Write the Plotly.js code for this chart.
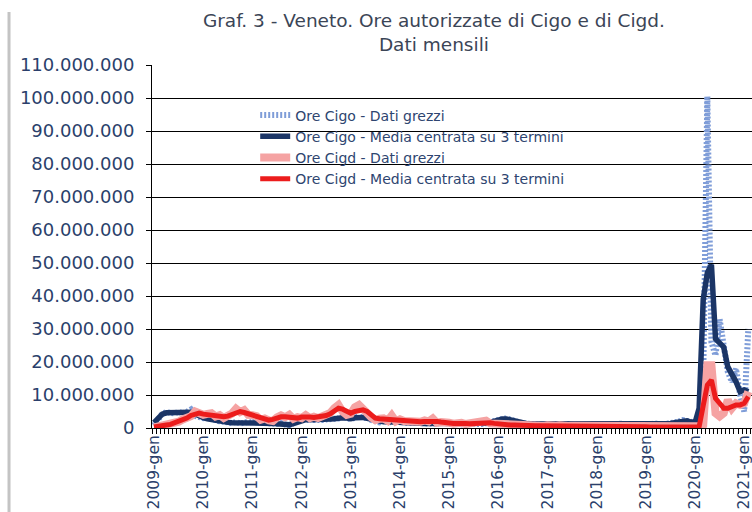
<!DOCTYPE html>
<html>
<head>
<meta charset="utf-8">
<script src="https://cdn.plot.ly/plotly-3.0.1.min.js"></script>
<style>html,body{margin:0;padding:0;background:#fff;}#chart{width:752px;height:512px;}</style>
</head>
<body>
<div id="chart"></div>
<script>
// Categories
var years = [2009,2010,2011,2012,2013,2014,2015,2016,2017,2018,2019,2020,2021];
var monthAbbr = ['gen','feb','mar','apr','mag','giu','lug','ago','set','ott','nov','dic'];

// Values in millions of hours (monthly, from 2009-gen to 2021-feb)
var cigoRaw = [
  0.8, 2.8, 4.3, 4.8, 4.5, 4.4, 4.9, 4.4, 4.9, 5.6, 3.7, 3.2,
  3.0, 3.2, 2.7, 2.3, 2.0, 1.9, 1.6, 1.5, 1.8, 1.4, 1.6, 1.9,
  1.7, 2.1, 1.7, 1.5, 1.6, 1.3, 1.2, 1.5, 1.0, 0.6, 1.6, 2.0,
  2.6, 2.3, 2.8, 2.4, 2.2, 2.4, 2.6, 2.6, 3.0, 2.9, 3.5, 2.8,
  2.6, 3.1, 3.6, 3.0, 3.2, 2.4, 2.1, 1.7, 2.2, 1.9, 1.7, 1.9,
  1.6, 1.7, 1.5, 1.6, 1.4, 1.5, 1.4, 1.3, 1.5, 1.4, 1.7, 1.5,
  1.5, 1.2, 1.4, 1.1, 1.3, 1.2, 1.0, 1.3, 1.2, 1.4, 1.8, 2.0,
  2.2, 2.8, 2.9, 2.5, 1.8, 1.5, 1.4, 1.3, 1.2, 1.1, 1.2, 1.0,
  1.2, 0.9, 1.1, 1.2, 0.9, 1.0, 1.1, 1.0, 1.2, 1.0, 0.9, 1.1,
  0.9, 1.2, 1.0, 1.1, 0.9, 1.2, 1.3, 1.0, 1.0, 0.9, 1.2, 1.1,
  1.3, 1.1, 1.4, 1.2, 1.1, 1.3, 1.5, 1.4, 1.9, 2.4, 2.2, 1.9,
  1.2, 1.8, 15, 100.5, 26, 22, 33, 24, 17, 14, 18, 10,
  5, 30
];
var cigoMA = [
  1.6, 3.0, 4.2, 4.6, 4.6, 4.6, 4.7, 4.7, 4.8, 4.8, 4.3, 3.6,
  3.1, 2.8, 2.5, 2.2, 2.0, 1.8, 1.7, 1.6, 1.6, 1.5, 1.6, 1.7,
  1.8, 1.8, 1.7, 1.6, 1.5, 1.4, 1.3, 1.2, 1.0, 1.0, 1.3, 1.8,
  2.3, 2.5, 2.5, 2.5, 2.3, 2.4, 2.5, 2.7, 2.8, 3.1, 3.1, 3.0,
  2.8, 3.1, 3.2, 3.2, 2.9, 2.6, 2.1, 2.0, 1.9, 1.9, 1.8, 1.8,
  1.7, 1.6, 1.6, 1.5, 1.5, 1.4, 1.4, 1.4, 1.4, 1.5, 1.5, 1.6,
  1.4, 1.4, 1.2, 1.3, 1.2, 1.2, 1.2, 1.2, 1.3, 1.5, 1.7, 2.1,
  2.4, 2.7, 2.7, 2.4, 1.9, 1.6, 1.4, 1.3, 1.2, 1.2, 1.1, 1.1,
  1.0, 1.1, 1.1, 1.1, 1.0, 1.0, 1.0, 1.1, 1.1, 1.0, 1.0, 1.0,
  1.1, 1.0, 1.1, 1.0, 1.1, 1.1, 1.2, 1.1, 1.0, 1.0, 1.1, 1.2,
  1.2, 1.3, 1.2, 1.2, 1.2, 1.3, 1.4, 1.6, 1.9, 2.2, 2.2, 1.8,
  1.6, 6.0, 39, 47, 49.5, 27, 26, 24.5, 18.5, 16.5, 14, 11,
  11.5, 11
];
var cigdRaw = [
  0.2, 0.4, 0.5, 0.8, 1.2, 1.4, 1.9, 2.6, 2.8, 3.6, 5.0, 4.4,
  4.0, 4.3, 4.5, 3.5, 3.9, 3.0, 3.5, 4.4, 5.8, 4.8, 5.4, 4.0,
  3.9, 3.6, 2.5, 2.9, 2.3, 2.1, 3.2, 3.8, 3.3, 4.0, 2.8, 3.3,
  3.0, 3.9, 3.0, 3.4, 3.0, 3.6, 4.0, 4.6, 6.0, 7.0, 5.0, 4.0,
  4.3, 6.3, 7.0, 5.3, 4.5, 3.2, 2.4, 2.8, 2.9, 2.2, 3.8, 2.0,
  2.6, 2.1, 1.9, 2.2, 1.7, 1.9, 2.3, 2.0, 2.9, 1.6, 1.8, 1.4,
  1.6, 1.3, 1.5, 1.6, 1.2, 1.3, 1.5, 1.5, 2.0, 2.2, 1.4, 1.3,
  1.1, 1.2, 0.9, 0.8, 1.0, 0.7, 0.9, 0.8, 0.6, 0.8, 0.7, 0.6,
  0.8, 0.5, 0.7, 0.8, 0.5, 0.6, 0.7, 0.7, 0.5, 0.6, 0.5, 0.4,
  0.6, 0.5, 0.4, 0.6, 0.5, 0.4, 0.5, 0.3, 0.4, 0.4, 0.5, 0.3,
  0.4, 0.3, 0.3, 0.4, 0.3, 0.2, 0.3, 0.3, 0.3, 0.4, 0.2, 0.3,
  0.3, 0.5, 1.0, 19, 19, 4.5, 3.5, 4.5, 8.5, 6.0, 7.5, 7.0,
  7.5, 11
];
var cigdMA = [
  0.3, 0.4, 0.6, 0.9, 1.1, 1.5, 2.0, 2.4, 3.0, 3.8, 4.3, 4.5,
  4.2, 4.0, 3.9, 3.8, 3.6, 3.4, 3.6, 4.2, 4.8, 5.0, 4.7, 4.3,
  3.8, 3.3, 2.9, 2.6, 2.4, 2.6, 3.0, 3.4, 3.4, 3.2, 3.0, 3.0,
  3.3, 3.4, 3.3, 3.2, 3.3, 3.5, 3.8, 4.3, 5.2, 6.0, 5.7, 5.0,
  4.5, 5.0, 5.4, 5.5, 5.0, 4.0, 3.0, 2.8, 2.7, 2.5, 2.4, 2.5,
  2.4, 2.2, 2.0, 2.0, 1.9, 1.9, 2.0, 2.1, 2.1, 2.0, 1.8, 1.6,
  1.5, 1.4, 1.4, 1.5, 1.4, 1.3, 1.4, 1.5, 1.6, 1.7, 1.6, 1.4,
  1.2, 1.1, 1.0, 0.9, 0.9, 0.8, 0.8, 0.8, 0.7, 0.7, 0.7, 0.7,
  0.7, 0.6, 0.7, 0.7, 0.6, 0.6, 0.6, 0.7, 0.6, 0.6, 0.5, 0.5,
  0.5, 0.5, 0.5, 0.5, 0.5, 0.4, 0.4, 0.4, 0.4, 0.4, 0.4, 0.4,
  0.4, 0.3, 0.3, 0.3, 0.3, 0.3, 0.3, 0.3, 0.3, 0.3, 0.3, 0.3,
  0.3, 0.4, 6.8, 13, 14.5, 9, 7.5, 6, 6, 6.5, 7, 7,
  7.5, 9.5
];
var seriesNames = [
  'Ore Cigo - Dati grezzi',
  'Ore Cigo - Media centrata su 3 termini',
  'Ore Cigd - Dati grezzi',
  'Ore Cigd - Media centrata su 3 termini'
];

// Build category labels (e.g. "2009-gen")
var months = [];
years.forEach(function (y) {
  monthAbbr.forEach(function (m) { months.push(y + '-' + m); });
});
months = months.slice(0, cigoRaw.length);
var tickText = months.map(function (m) { return m.slice(-3) === 'gen' ? m : ''; });
function toHours(arr) { return arr.map(function (v) { return v * 1e6; }); }

var traces = [
  {x: months, y: toHours(cigoRaw), name: seriesNames[0], type: 'scatter', mode: 'lines',
   line: {color: '#7F9DD8', width: 6, dash: '2px,2px'}},
  {x: months, y: toHours(cigoMA), name: seriesNames[1], type: 'scatter', mode: 'lines',
   line: {color: '#1B3566', width: 5.5}},
  {x: months, y: toHours(cigdRaw), name: seriesNames[2], type: 'scatter', mode: 'lines',
   line: {color: '#F5A3A3', width: 8}},
  {x: months, y: toHours(cigdMA), name: seriesNames[3], type: 'scatter', mode: 'lines',
   line: {color: '#EC1C1C', width: 5}}
];

var axisColor = '#2B3F6B';
var layout = {
  width: 752, height: 512,
  margin: {l: 152, r: 0, t: 65, b: 84, pad: 0},
  paper_bgcolor: '#fff', plot_bgcolor: '#fff',
  separators: ',.',
  showlegend: true,
  title: {
    text: 'Graf. 3 - Veneto. Ore autorizzate di Cigo e di Cigd.<br>Dati mensili',
    font: {family: 'DejaVu Sans', size: 18.5, color: '#3B4556'},
    x: 0.577, xanchor: 'center', xref: 'container',
    y: 0.948, yanchor: 'top', yref: 'container'
  },
  xaxis: {
    type: 'category',
    range: [-0.5, 145.9],
    tickmode: 'array', tickvals: months, ticktext: tickText,
    tickangle: -90, tickson: 'boundaries',
    ticks: 'outside', ticklen: 5, tickcolor: '#000', tickwidth: 1,
    showline: true, linecolor: '#000', linewidth: 1,
    showgrid: false, zeroline: false,
    tickfont: {family: 'DejaVu Sans', size: 15.5, color: axisColor}
  },
  yaxis: {
    range: [0, 110e6], dtick: 10e6, tick0: 0,
    tickformat: ',d',
    showgrid: true, gridcolor: '#000', gridwidth: 1,
    showline: true, linecolor: '#000', linewidth: 1,
    ticks: 'outside', ticklen: 5, tickcolor: '#000',
    ticklabelstandoff: 8,
    zeroline: false,
    tickfont: {family: 'DejaVu Sans', size: 18, color: axisColor}
  },
  legend: {
    x: 0.172, y: 0.905, xanchor: 'left', yanchor: 'top',
    bgcolor: 'rgba(255,255,255,0)', borderwidth: 0,
    font: {family: 'DejaVu Sans', size: 14, color: '#2E4570'},
    traceorder: 'normal'
  },
  shapes: [
    {type: 'rect', xref: 'paper', yref: 'paper', x0: 0.055, x1: 0.788, y0: 0.655, y1: 0.895,
     fillcolor: '#fff', line: {width: 0}, layer: 'between'},
    {type: 'line', xref: 'paper', yref: 'paper', x0: -0.2383, x1: -0.2383, y0: -0.24, y1: 1.146,
     line: {color: '#C4C4C4', width: 3}, layer: 'above'}
  ]
};

Plotly.newPlot('chart', traces, layout, {staticPlot: true, displayModeBar: false});
</script>
</body>
</html>
